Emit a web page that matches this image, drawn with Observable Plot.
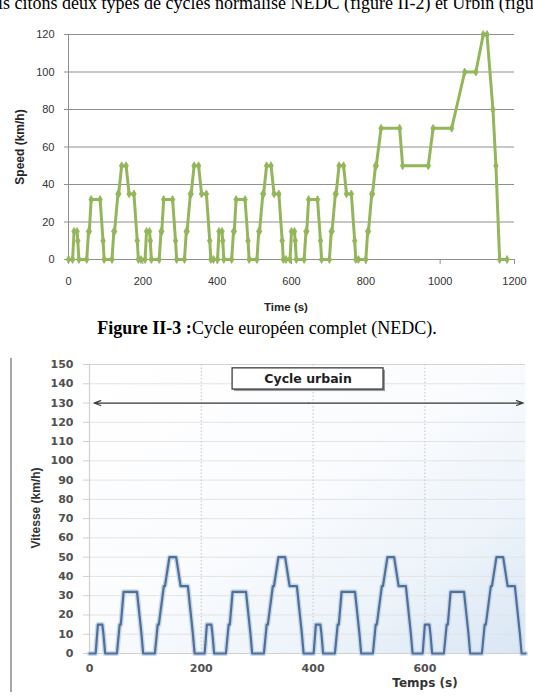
<!DOCTYPE html>
<html><head><meta charset="utf-8">
<script src="https://cdn.jsdelivr.net/npm/d3@7"></script>
<script src="https://cdn.jsdelivr.net/npm/@observablehq/plot@0.6"></script>
<style>
html,body{margin:0;padding:0;background:#fff;}
#page{position:relative;width:533px;height:697px;overflow:hidden;background:#fff;}
.abs{position:absolute;white-space:nowrap;z-index:5;line-height:1;}
.serif{font-family:"Liberation Serif","Times New Roman",serif;color:#000;}
.rot{transform:translate(-50%,-50%) rotate(-90deg);}
.ctr{transform:translate(-50%,-50%);}
#c1,#c2{position:absolute;left:0;z-index:1;}
#c1{top:0}
#c2{top:340px}
#c1 [aria-label$="axis"] line, #c1 [aria-label$="axis tick"] path {stroke:#8f8f8f;}
#c2 [aria-label$="axis"] line, #c2 [aria-label$="axis tick"] path {stroke:#cfcfcf;}
</style></head>
<body><div id="page">
<div id="c1"></div>
<div id="c2"></div>
<div class="abs serif" id="toptext" style="left:-2px;top:-6px;font-size:18px;">is citons deux types de cycles normalisé NEDC (figure II-2) et Urbin (figure II-3).</div>
<div class="abs" style="left:20px;top:147px;font:bold 12px 'Liberation Sans',Arial,sans-serif;color:#262626;" ><div class="rot">Speed (km/h)</div></div>
<div class="abs ctr" style="left:286px;top:307px;font:bold 11.5px 'Liberation Sans',Arial,sans-serif;color:#262626;">Time (s)</div>
<div class="abs serif" style="left:0;width:533px;top:319px;font-size:18px;text-align:center;"><span style="padding-left:1px"><b>Figure II-3 :</b>Cycle européen complet (NEDC).</span></div>
<div class="abs" style="left:10px;top:358px;width:1.5px;height:334px;background:#a8a8a8;"></div>
<div class="abs" style="left:36px;top:508px;font:bold 12px 'Liberation Sans',Arial,sans-serif;color:#333;"><div class="rot">Vitesse (km/h)</div></div>
<div class="abs ctr" style="left:425px;top:683px;font:bold 12px 'DejaVu Sans',sans-serif;color:#333;">Temps (s)</div>
</div>
<script>
// NEDC: four ECE-15 urban cycles followed by the EUDC
const nedcTime = [
  0,11,15,23,25,28,49,54,56,61,85,93,96,117,122,124,133,135,143,155,163,176,185,188,
  195,206,210,218,220,223,244,249,251,256,280,288,291,312,317,319,328,330,338,350,358,371,380,383,
  390,401,405,413,415,418,439,444,446,451,475,483,486,507,512,514,523,525,533,545,553,566,575,578,
  585,596,600,608,610,613,634,639,641,646,670,678,681,702,707,709,718,720,728,740,748,761,770,773,
  780,800,805,807,816,818,826,828,841,891,899,968,981,1031,1066,1096,1116,1126,1142,1150,1160,1180
];
const nedcSpeed = [
  0,0,15,15,10,0,0,15,15,32,32,10,0,0,15,15,35,35,50,50,35,35,10,0,
  0,0,15,15,10,0,0,15,15,32,32,10,0,0,15,15,35,35,50,50,35,35,10,0,
  0,0,15,15,10,0,0,15,15,32,32,10,0,0,15,15,35,35,50,50,35,35,10,0,
  0,0,15,15,10,0,0,15,15,32,32,10,0,0,15,15,35,35,50,50,35,35,10,0,
  0,0,15,15,35,35,50,50,70,70,50,50,70,70,100,100,120,120,80,50,0,0
];
const urbanEndTime = 780;

const xTicks1 = [0,200,400,600,800,1000,1200];
const yTicks1 = [0,20,40,60,80,100,120];
const xTicks2 = [0,200,400,600];
const yTicks2 = [0,10,20,30,40,50,60,70,80,90,100,110,120,130,140,150];
const vGrid2 = [200,400,600];

const arrowEnds = [8, 776];
const arrowMid = 392;
const arrowLevel = 130;
const boxLabel = ["Cycle urbain"];
const boxX = [256, 526];
const boxY = [137, 148];

const nedc = nedcTime.map((t, i) => ({t, v: nedcSpeed[i]}));
const urban = nedc.filter(d => d.t <= urbanEndTime);
const plain = d => String(d);

const green = "#94b65a";
const chart1 = Plot.plot({
  width: 533, height: 300,
  marginLeft: 68, marginRight: 19, marginTop: 34, marginBottom: 41,
  style: {fontFamily: "'Liberation Sans', Arial, sans-serif", fontSize: "11px", color: "#333", background: "transparent", overflow: "visible"},
  x: {domain: [0, 1200], ticks: xTicks1, tickFormat: plain, tickSize: 5, tickPadding: 13, label: null},
  y: {domain: [0, 120], ticks: yTicks1, tickFormat: plain, tickSize: 4, tickPadding: 10, label: null},
  marks: [
    Plot.ruleY(yTicks1, {stroke: "#8f8f8f", strokeWidth: 1}),
    Plot.ruleX([0], {stroke: "#8f8f8f", strokeWidth: 1}),
    Plot.line(nedc, {x: "t", y: "v", stroke: green, strokeWidth: 3, strokeLinejoin: "round"}),
    Plot.dot(nedc, {x: "t", y: "v", symbol: "diamond", r: 2.4, fill: green, stroke: green, strokeWidth: 0.8})
  ]
});
document.getElementById("c1").appendChild(chart1);

const chart2 = Plot.plot({
  width: 533, height: 357,
  marginLeft: 89, marginRight: 8, marginTop: 24, marginBottom: 44,
  style: {fontFamily: "'DejaVu Sans', sans-serif", fontSize: "11px", fontWeight: "bold", color: "#505050", background: "transparent", overflow: "visible"},
  x: {domain: [0, 780], ticks: xTicks2, tickFormat: plain, tickSize: 0, tickPadding: 11, label: null},
  y: {domain: [0, 150], ticks: yTicks2, tickFormat: plain, tickSize: 6, tickPadding: 10, label: null},
  marks: [
    Plot.frame({fill: "url(#bg2)", stroke: "none"}),
    Plot.ruleY(yTicks2.filter(v => v > 0 && v < 150), {stroke: "#e3e3e3", strokeWidth: 1}),
    Plot.ruleY([150], {stroke: "#d4d4d4", strokeWidth: 1.2}),
    Plot.ruleX(vGrid2, {stroke: "#c4c4c4", strokeWidth: 1, strokeDasharray: "1.5,2"}),
    Plot.ruleX([0], {stroke: "#d0d0d0", strokeWidth: 1.2}),
    Plot.ruleY([0], {stroke: "#d0d0d0", strokeWidth: 1.2}),
    Plot.line(urban, {x: "t", y: "v", stroke: "#c9d8ea", strokeWidth: 5, strokeLinejoin: "round"}),
    Plot.line(urban, {x: "t", y: "v", stroke: "#50709a", strokeWidth: 2.2, strokeLinejoin: "round"}),
    Plot.arrow(arrowEnds, {x1: () => arrowMid, x2: d => d, y1: () => arrowLevel, y2: () => arrowLevel,
      stroke: "#3a3a3a", strokeWidth: 1.2, headLength: 9, headAngle: 40}),
    Plot.rect(boxLabel, {x1: () => boxX[0], x2: () => boxX[1], y1: () => boxY[0], y2: () => boxY[1],
      fill: "#9a9a9a", dx: 2, dy: 2}),
    Plot.rect(boxLabel, {x1: () => boxX[0], x2: () => boxX[1], y1: () => boxY[0], y2: () => boxY[1],
      fill: "white", stroke: "#3c3c3c", strokeWidth: 1.3}),
    Plot.text(boxLabel, {x: () => (boxX[0] + boxX[1]) / 2, y: () => (boxY[0] + boxY[1]) / 2, text: d => d,
      fontSize: 12.5, fontWeight: "bold", fill: "#1e1e1e"})
  ]
});
const defs = d3.select(chart2).insert("defs", ":first-child");
const grad = defs.append("linearGradient").attr("id", "bg2").attr("x1", "0").attr("y1", "0").attr("x2", "1").attr("y2", "1");
grad.append("stop").attr("offset", "0").attr("stop-color", "#ffffff");
grad.append("stop").attr("offset", "0.45").attr("stop-color", "#fbfcfe");
grad.append("stop").attr("offset", "0.75").attr("stop-color", "#ecf3fa");
grad.append("stop").attr("offset", "1").attr("stop-color", "#d8e6f4");
document.getElementById("c2").appendChild(chart2);
</script>
</body></html>
